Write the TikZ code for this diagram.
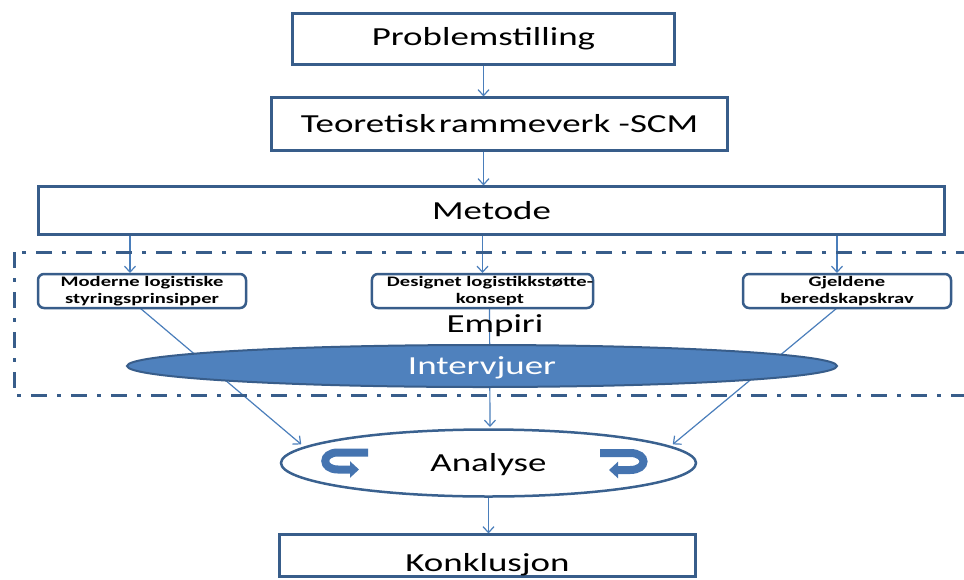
\documentclass[tikz,border=0pt]{standalone}
\usepackage{fontspec}
\setmainfont{Carlito}[FakeStretch=1.42]
\usetikzlibrary{shapes.geometric,arrows.meta}
\definecolor{boxline}{HTML}{385D8A}
\definecolor{arrowline}{HTML}{4A7EBB}
\definecolor{fillblue}{HTML}{4F81BD}
\definecolor{cycblue}{HTML}{4574B0}
\pgfdeclarelayer{back}
\pgfsetlayers{back,main}

\begin{document}
\begin{tikzpicture}[x=1pt,y=-1pt,
  bigfont/.style={font=\fontsize{26}{31}\selectfont},
  bigbox/.style={bigfont, draw=boxline, line width=3pt, fill=white,
    inner sep=0pt, outer sep=0pt, text height=17pt, text depth=0pt},
  smallbox/.style={draw=boxline, line width=2.5pt, rounded corners=6pt,
    fill=white, inner sep=0pt, outer sep=0pt,
    minimum width=208pt, minimum height=34pt, align=center,
    font=\bfseries\fontsize{14.5}{17}\selectfont},
  link/.style={draw=arrowline, line width=1.2pt, shorten >=1pt,
    -{Straight Barb[length=6pt,width=11pt]}},
  frame/.style={draw=boxline, line width=3pt,
    dash pattern=on 16pt off 10pt on 4pt off 10pt},
  cycle arrow/.style={draw=cycblue, line width=8pt,
    -{Triangle[length=9pt,width=16pt]}}
]
\useasboundingbox (0,0) rectangle (964,579);
\begin{pgfonlayer}{back}
  \fill[white] (0,0) rectangle (964,579);
\end{pgfonlayer}
\clip (0,0) rectangle (964,579);

% dash-dotted frame round the empirical part
\draw[frame] (14,252) rectangle (990,395);

% main chain of boxes
\node[bigbox, minimum width=382pt, minimum height=51pt, text depth=5pt]
  (prob) at (483.5,39) {Problemstilling};
\node[bigbox, minimum width=456pt, minimum height=53pt, text depth=1pt]
  (teo) at (499.5,124) {Teoretisk\hspace{0.12em}rammeverk -SCM};
\node[bigbox, minimum width=906pt, minimum height=48pt]
  (met) at (491.5,210.5) {Metode};

% three sources of empirical data
\node[smallbox] (mod) at (142,291) {Moderne logistiske\\styringsprinsipper};
\node[smallbox] (des) at (482.5,291) {\hspace*{15pt}Designet logistikkstøtte-\\\hspace*{15pt}konsept};
\node[smallbox] (gje) at (847,291) {Gjeldene\\beredskapskrav};

\node[bigfont, anchor=base] (emp) at (495,332) {Empiri};

\node[ellipse, draw=boxline, line width=2pt, fill=fillblue, text=white,
  inner sep=0pt, outer sep=0pt, minimum width=710pt, minimum height=42pt,
  bigfont, text height=17pt, text depth=0pt]
  (intv) at (482,366) {Intervjuer};

\node[ellipse, draw=boxline!90!fillblue, line width=2.5pt, fill=white,
  inner sep=0pt, outer sep=0pt, minimum width=415pt, minimum height=67pt,
  bigfont, text height=17pt, text depth=0pt]
  (ana) at (488.5,463) {Analyse};

\node[bigbox, minimum width=416pt, minimum height=42pt, text height=32pt]
  (kon) at (487.5,555.5) {Konklusjon};

% arrow ends just outside the analysis ellipse
\coordinate (anaL) at (302,445);
\coordinate (anaR) at (672,445);
\coordinate (anaT) at (490,428);

% iteration arrows inside the analysis ellipse
\draw[cycle arrow] (368,452.5) -- (338,452.5)
  .. controls (321,452.5) and (321,469.5) .. (338,469.5) -- (359,469.5);
\draw[cycle arrow] (600,453) -- (630,453)
  .. controls (648,453) and (648,470) .. (630,470) -- (609,470);

% connectors, kept behind the shapes
\begin{pgfonlayer}{back}
  \draw[link] (prob.south) -- (prob.south |- teo.north);
  \draw[link] (teo.south -| prob.south) -- (met.north -| prob.south);
  \draw[link] ([xshift=-12pt]met.south -| mod.south) -- ([xshift=-12pt]mod.north);
  \draw[link] (met.south -| des.north) -- (des.north);
  \draw[link] ([xshift=-10pt]met.south -| gje.south) -- ([xshift=-10pt]gje.north);
  \draw[link] ([xshift=-2pt]mod.south) -- (anaL);
  \draw[link] ([xshift=7pt]des.south) -- (anaT);
  \draw[link] ([xshift=-10pt]gje.south) -- (anaR);
  \draw[link] (ana.south) -- (ana.south |- kon.north);
\end{pgfonlayer}
\end{tikzpicture}
\end{document}
